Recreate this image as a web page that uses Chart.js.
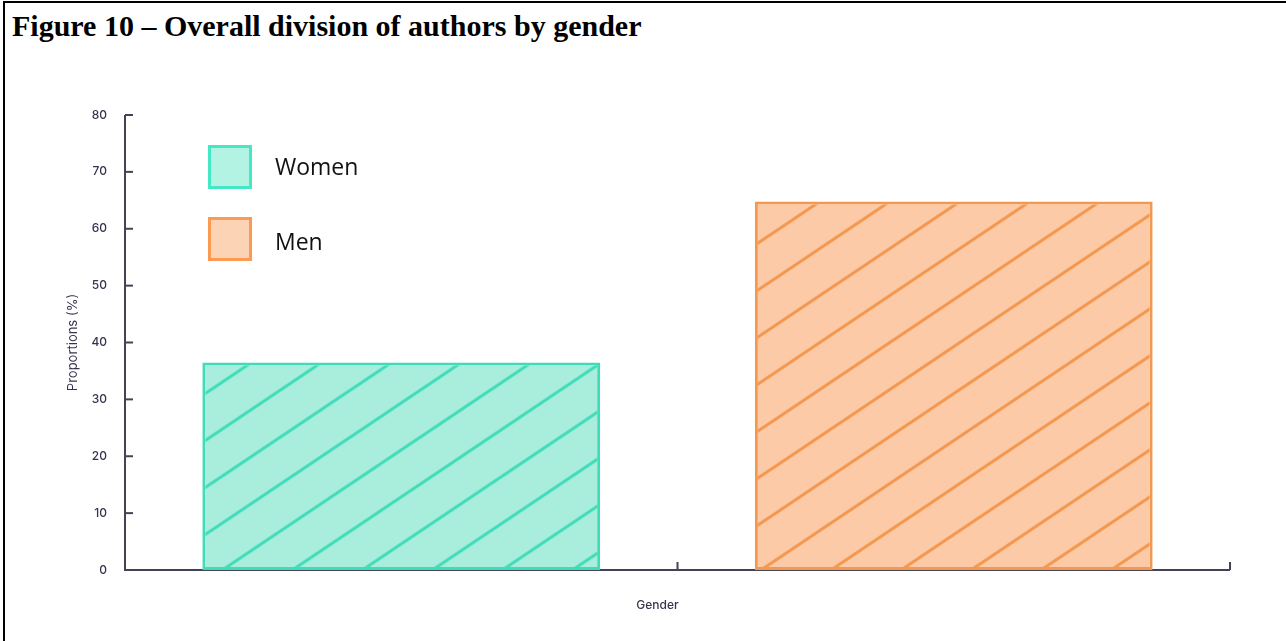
<!DOCTYPE html>
<html>
<head>
<meta charset="utf-8">
<script src="https://cdn.jsdelivr.net/npm/chart.js@4"></script>
<style>
  html, body { margin: 0; padding: 0; background: #fff; }
  body { width: 1286px; height: 641px; position: relative; overflow: hidden; }
  .frame {
    position: absolute; left: 3px; top: 1px; width: 1300px; height: 660px;
    border-left: 2px solid #000; border-top: 2px solid #000;
  }
  .fig-title {
    position: absolute; left: 12px; top: 9px;
    font: bold 30px "Liberation Serif", "Times New Roman", serif; color: #000;
    white-space: nowrap;
  }
  #chart { position: absolute; left: 0; top: 0; }
</style>
</head>
<body>
<div class="frame"></div>
<div class="fig-title">Figure 10 – Overall division of authors by gender</div>
<canvas id="chart" width="1286" height="641"></canvas>
<script>
// Data
const categories = ["Women", "Men"];
const proportions = [36.5, 64.8];
const yTicks = [0, 10, 20, 30, 40, 50, 60, 70, 80];
const xTitle = "Gender";

// Colours
const fillColors = ["#a9eedd", "#fccaa6"];
const lineColors = ["#3fdcb8", "#f4974f"];
const legendFills = ["#b3f3e4", "#fcd3b4"];
const legendBorders = ["#45e8c5", "#fb9a52"];
const axisColor = "#434356";
const textColor = "#34344e";

// Hatch pattern: fill + diagonal lines rising to the right
const makeHatch = (fill, line, shiftY) => {
  const w = 70, h = 47;
  const tile = document.createElement("canvas");
  tile.width = w;
  tile.height = h;
  const t = tile.getContext("2d");
  t.fillStyle = fill;
  t.fillRect(0, 0, w, h);
  t.strokeStyle = line;
  t.lineWidth = 3;
  for (let k = -1; k <= 1; k++) {
    t.beginPath();
    t.moveTo(-10, h + k * h + 10 * h / w);
    t.lineTo(w + 10, k * h - 10 * h / w);
    t.stroke();
  }
  const pattern = document.getElementById("chart").getContext("2d").createPattern(tile, "repeat");
  pattern.setTransform(new DOMMatrix().translate(0, shiftY));
  return pattern;
};

const hatches = [
  makeHatch(fillColors[0], lineColors[0], 14.3),
  makeHatch(fillColors[1], lineColors[1], 46.9),
];

// Axis lines with inward tick marks
const axisLines = {
  id: "axisLines",
  beforeDatasetsDraw(chart) {
    const { ctx, chartArea, scales: { x, y } } = chart;
    ctx.save();
    ctx.strokeStyle = axisColor;
    ctx.lineWidth = 2;
    ctx.beginPath();
    ctx.moveTo(chartArea.left, y.getPixelForValue(yTicks[yTicks.length - 1]));
    ctx.lineTo(chartArea.left, chartArea.bottom);
    ctx.lineTo(chartArea.right, chartArea.bottom);
    ctx.stroke();

    y.ticks.forEach((tick, i) => {
      const py = y.getPixelForTick(i);
      ctx.beginPath();
      ctx.moveTo(chartArea.left, py);
      ctx.lineTo(chartArea.left + 8, py);
      ctx.stroke();
    });

    for (let i = 1; i <= categories.length; i++) {
      const px = i < categories.length
        ? (x.getPixelForValue(i - 1) + x.getPixelForValue(i)) / 2
        : x.right;
      ctx.beginPath();
      ctx.moveTo(px, chartArea.bottom);
      ctx.lineTo(px, chartArea.bottom - 8);
      ctx.stroke();
    }
    ctx.restore();
  },
  afterDraw(chart) {
    // x axis title sits a little left of the plot centre in the original
    const { ctx, chartArea } = chart;
    ctx.save();
    ctx.fillStyle = textColor;
    ctx.font = '500 12px "Inter", sans-serif';
    ctx.textAlign = "center";
    ctx.textBaseline = "middle";
    ctx.fillText(xTitle, (chartArea.left + chartArea.right) / 2 - 20, chartArea.bottom + 35);
    ctx.restore();
  },
};

// Legend boxes inside the plot
const boxLegend = {
  id: "boxLegend",
  afterDraw(chart) {
    const { ctx, chartArea } = chart;
    ctx.save();
    categories.forEach((label, i) => {
      const bx = chartArea.left + 83;
      const by = chartArea.top + 30 + i * 72;
      ctx.fillStyle = legendFills[i];
      ctx.fillRect(bx, by, 44, 44);
      ctx.strokeStyle = legendBorders[i];
      ctx.lineWidth = 3;
      ctx.strokeRect(bx + 1.5, by + 1.5, 41, 41);
      ctx.fillStyle = "#111";
      ctx.font = '23px "Open Sans", sans-serif';
      ctx.textBaseline = "middle";
      ctx.fillText(label, bx + 67, by + 23 + i * 3);
    });
    ctx.restore();
  },
};

new Chart(document.getElementById("chart"), {
  type: "bar",
  data: {
    labels: categories,
    datasets: [
      {
        label: "Proportions (%)",
        data: proportions,
        backgroundColor: hatches,
        borderColor: lineColors,
        borderWidth: 3,
        borderSkipped: false,
        categoryPercentage: 0.8,
        barPercentage: 0.9,
      },
    ],
  },
  options: {
    responsive: false,
    animation: false,
    layout: {
      padding: { top: 115, right: 56, bottom: 0, left: 0 },
    },
    plugins: {
      legend: { display: false },
      tooltip: { enabled: false },
    },
    scales: {
      x: {
        type: "category",
        offset: true,
        grid: { display: false, drawTicks: false },
        border: { display: false },
        ticks: { display: false },
        afterFit: (scale) => {
          scale.height = 71;
        },
      },
      y: {
        min: 0,
        max: 80,
        grid: { display: false, drawTicks: false },
        border: { display: false },
        ticks: {
          stepSize: 10,
          padding: 18,
          color: textColor,
          font: { family: "Inter", size: 12, weight: 500 },
        },
        title: {
          display: true,
          text: "Proportions (%)",
          color: textColor,
          font: { family: "Inter", size: 13 },
          padding: { top: 65, bottom: 0 },
        },
        afterFit: (scale) => {
          scale.width = 125;
        },
      },
    },
  },
  plugins: [axisLines, boxLegend],
});
</script>
</body>
</html>
